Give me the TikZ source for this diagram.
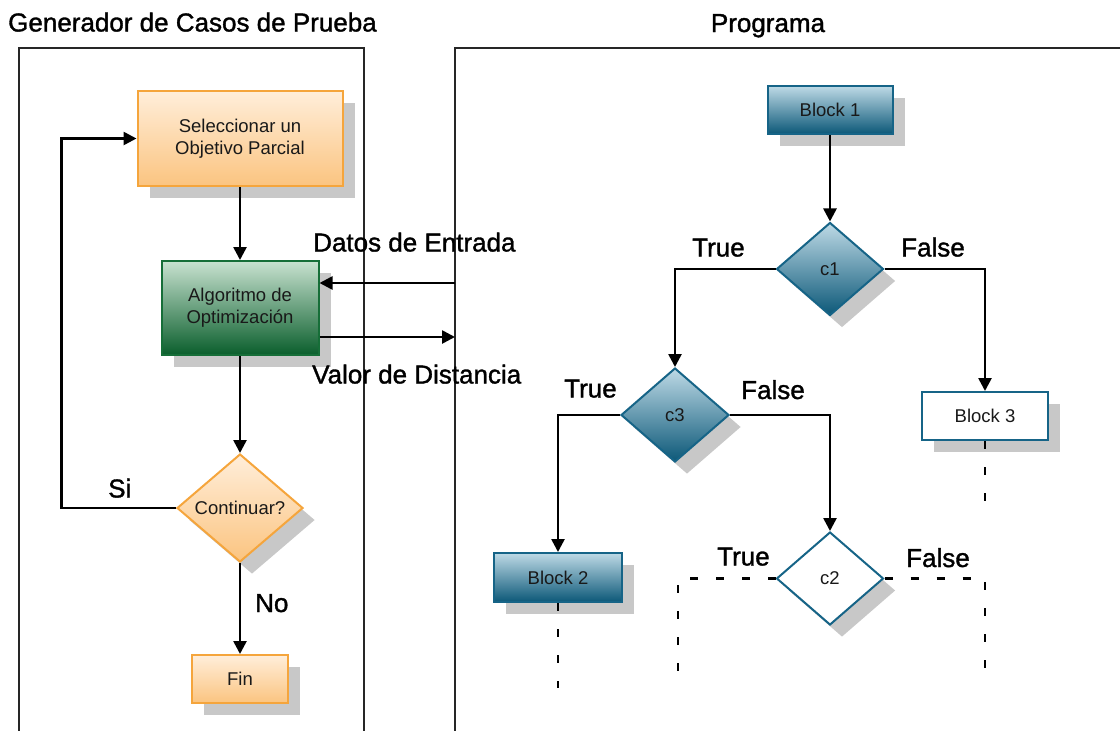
\documentclass[tikz,border=0pt]{standalone}
\usepackage{fontspec}
\setmainfont{Liberation Sans}
\newfontfamily\lblfont{Liberation Sans}[FakeBold=1.3]
\usetikzlibrary{arrows.meta,shapes.geometric,shadows}

\definecolor{orBord}{RGB}{245,165,60}
\definecolor{orTop}{RGB}{255,238,218}
\definecolor{orBot}{RGB}{251,196,128}
\definecolor{grBord}{RGB}{22,110,56}
\definecolor{grTop}{RGB}{200,226,208}
\definecolor{grBot}{RGB}{10,94,44}
\definecolor{tlBord}{RGB}{22,100,135}
\definecolor{tlTop}{RGB}{190,218,230}
\definecolor{tlBot}{RGB}{12,88,120}
\definecolor{shd}{RGB}{200,200,200}
\definecolor{txt}{RGB}{25,25,25}

\tikzset{
 shad/.style={drop shadow={shadow xshift=12pt,shadow yshift=-12pt,fill=shd,opacity=1}},
 boxtxt/.style={font=\fontsize{18.5}{22}\selectfont, text=txt, align=center, inner sep=0pt},
 orbox/.style={shad, draw=orBord, line width=2pt, top color=orTop, bottom color=orBot, boxtxt},
 grbox/.style={shad, draw=grBord, line width=2pt, top color=grTop, bottom color=grBot, boxtxt},
 tlbox/.style={shad, draw=tlBord, line width=2pt, top color=tlTop, bottom color=tlBot, boxtxt},
 whbox/.style={shad, draw=tlBord, line width=2pt, fill=white, boxtxt},
 dia/.style={diamond, inner sep=0pt},
 lbl/.style={font=\lblfont\fontsize{26}{30}\selectfont, inner sep=0pt, anchor=base west},
 arr/.style={line width=2.6pt, -{Triangle[length=13pt,width=13pt]}},
 dsh/.style={line width=2.6pt, dash pattern=on 8pt off 18pt},
 panel/.style={line width=1.3pt, draw=black!85},
}

\begin{document}
\begin{tikzpicture}[x=1pt,y=-1pt]
\useasboundingbox (0,0) rectangle (1120,731);

% panels
\draw[panel] (19,735) -- (19,48) -- (364,48) -- (364,735);
\draw[panel] (455,735) -- (455,48) -- (1125,48);

% titles
\node[lbl] (tgen) at (8,31.5) {Generador de Casos de Prueba};
\node[lbl, anchor=base] (tprog) at (768,32) {Programa};

% left flow
\node[orbox, minimum width=205pt, minimum height=95pt] (sel) at (240,138.5) {Seleccionar un\\Objetivo Parcial};
\node[grbox, minimum width=157pt, minimum height=94pt] (alg) at (240,308) {Algoritmo de\\Optimización};
\node[orbox, dia, minimum width=126pt, minimum height=108pt] (cont) at (240,508) {Continuar?};
\node[orbox, minimum width=96pt, minimum height=48pt] (fin) at (240,679) {Fin};

\coordinate (loopL) at (61.5,508);
\coordinate (datIn) at (455,283);
\coordinate (valOut) at (455,337);

\draw[arr] (sel) -- (alg);
\draw[arr] (alg) -- (cont);
\draw[arr] (cont) -- (fin);
\draw[arr] (cont.west) -- (loopL) |- (sel.west);
\draw[arr] (datIn) -- (datIn -| alg.east);
\draw[arr] (valOut -| alg.east) -- (valOut);

\node[lbl] (ldat) at (313,251.5) {Datos de Entrada};
\node[lbl] (lval) at (312,383.5) {Valor de Distancia};
\node[lbl] (lsi) at (108,497.5) {Si};
\node[lbl] (lno) at (255,612) {No};

% program flow
\node[tlbox, minimum width=125pt, minimum height=48pt] (b1) at (830,110) {Block 1};
\node[tlbox, dia, minimum width=107pt, minimum height=93pt] (c1) at (830,269) {c1};
\node[tlbox, dia, minimum width=108pt, minimum height=94pt] (c3) at (675,415) {c3};
\node[whbox, dia, minimum width=107pt, minimum height=93pt] (c2) at (830,578.5) {c2};
\node[tlbox, minimum width=128pt, minimum height=49pt] (b2) at (558,577.5) {Block 2};
\node[whbox, minimum width=126pt, minimum height=48pt] (b3) at (985,416) {Block 3};

\draw[arr] (b1) -- (c1);
\draw[arr] (c1.west) -| (c3.north);
\draw[arr] (c1.east) -| (b3.north);
\draw[arr] (c3.west) -| (b2.north);
\draw[arr] (c3.east) -| (c2.north);

\coordinate (tL) at (678,672);
\coordinate (fR) at (985,672);
\coordinate (b3end) at (985,507);
\coordinate (b2end) at (558,688);
\draw[dsh] (c2.west) -| (tL);
\draw[dsh] (c2.east) -| (fR);
\draw[dsh] (b3.south) -- (b3end);
\draw[dsh] (b2.south) -- (b2end);

\node[lbl] (lt1) at (692,256.5) {True};
\node[lbl] (lf1) at (901,256.5) {False};
\node[lbl] (lt3) at (564,397.5) {True};
\node[lbl] (lf3) at (741,399) {False};
\node[lbl] (lt2) at (717,565.5) {True};
\node[lbl] (lf2) at (906,567) {False};
\end{tikzpicture}
\end{document}
